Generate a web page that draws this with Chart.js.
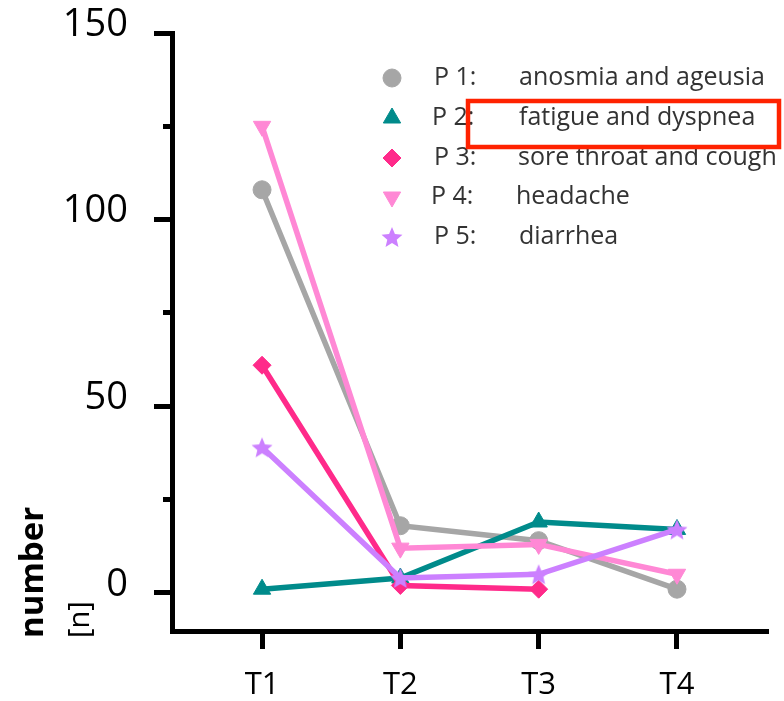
<!DOCTYPE html>
<html>
<head>
<meta charset="utf-8">
<script src="https://cdn.jsdelivr.net/npm/chart.js@4.4.1/dist/chart.umd.min.js"></script>
<style>
  html, body { margin: 0; padding: 0; background: #fff; }
  #wrap { width: 784px; height: 701px; }
</style>
</head>
<body>
<div id="wrap"><canvas id="chart" width="784" height="701"></canvas></div>
<script>
// ===== Data =====
const timeLabels = ["T1", "T2", "T3", "T4"];
const yTicks = [0, 25, 50, 75, 100, 125, 150];
const yLabelled = [0, 50, 100, 150];

const p1 = [108, 18, 14, 1];     // anosmia and ageusia
const p2 = [1, 4, 19, 17];       // fatigue and dyspnea
const p3 = [61, 2, 1, null];     // sore throat and cough
const p4 = [125, 12, 13, 5];     // headache
const p5 = [39, 4, 5, 17];       // diarrhea

const seriesNames = ["P 1:", "P 2:", "P 3:", "P 4:", "P 5:"];
const seriesDesc = ["anosmia and ageusia", "fatigue and dyspnea", "sore throat and cough", "headache", "diarrhea"];

// ===== Star marker (filled) =====
function makeStar(color, r) {
  const c = document.createElement("canvas");
  const s = Math.ceil(r * 2 + 2);
  c.width = s; c.height = s;
  const g = c.getContext("2d");
  g.fillStyle = color;
  g.beginPath();
  for (let i = 0; i < 10; i++) {
    const rad = i % 2 === 0 ? r : r * 0.45;
    const a = -Math.PI / 2 + i * Math.PI / 5;
    const px = s / 2 + rad * Math.cos(a), py = s / 2 + rad * Math.sin(a) + r * 0.1;
    if (i === 0) g.moveTo(px, py); else g.lineTo(px, py);
  }
  g.closePath();
  g.fill();
  return c;
}

const toXY = arr => arr.map((v, i) => ({ x: i + 1, y: v }));

function makeSet(data, color, style, rot, order, radius) {
  return {
    data: toXY(data),
    borderColor: color,
    backgroundColor: color,
    borderWidth: 5.5,
    pointStyle: style,
    rotation: rot,
    pointRadius: radius,
    pointBorderWidth: 1,
    pointBorderColor: color,
    pointBackgroundColor: color,
    tension: 0,
    spanGaps: false,
    order: order
  };
}

const starImg = makeStar("#cc80ff", 11);

const datasets = [
  makeSet(p1, "#a6a6a6", "circle", 0, 5, 9),
  makeSet(p2, "#008b8b", "triangle", 0, 4, 10),
  makeSet(p3, "#ff2a8a", "rectRot", 0, 3, 9),
  makeSet(p4, "#ff88d5", "triangle", 180, 2, 10),
  makeSet(p5, "#cc80ff", starImg, 0, 1, 11)
];

// ===== Legend + y title + annotation box =====
const extras = {
  id: "extras",
  afterDraw(chart) {
    const ctx = chart.ctx;
    ctx.save();
    // legend
    const rowY = [78, 118, 158, 197, 237];
    const nameX = [434, 432, 434, 431, 434];
    const descX = [519, 519, 518, 516, 519];
    chart.data.datasets.forEach((ds, i) => {
      ctx.fillStyle = ds.backgroundColor;
      ctx.strokeStyle = ds.borderColor;
      ctx.lineWidth = 1;
      Chart.helpers.drawPoint(ctx, {
        pointStyle: ds.pointStyle, radius: ds.pointRadius, rotation: ds.rotation, borderWidth: 1
      }, 392, rowY[i]);
      ctx.fillStyle = "#333";
      ctx.font = "25px 'Open Sans'";
      ctx.textBaseline = "middle";
      ctx.textAlign = "left";
      ctx.fillText(seriesNames[i], nameX[i], rowY[i]);
      ctx.fillText(seriesDesc[i], descX[i], rowY[i]);
    });
    // red highlight box
    ctx.strokeStyle = "#ff2200";
    ctx.lineWidth = 4.5;
    ctx.strokeRect(468, 101, 311, 46);
    // y title
    ctx.fillStyle = "#000";
    ctx.save();
    ctx.translate(43, 638);
    ctx.rotate(-Math.PI / 2);
    ctx.textAlign = "left";
    ctx.textBaseline = "alphabetic";
    ctx.font = "bold 33px 'Open Sans'";
    ctx.fillText("number", 0, 0);
    ctx.restore();
    ctx.save();
    ctx.translate(81, 638);
    ctx.rotate(-Math.PI / 2);
    ctx.font = "29px 'Open Sans'";
    ctx.fillText("[n]", 0, 0);
    ctx.restore();
    ctx.restore();
  }
};

new Chart(document.getElementById("chart"), {
  type: "line",
  data: { datasets },
  plugins: [extras],
  options: {
    responsive: false,
    animation: false,
    layout: { padding: { top: 33, right: 16, left: 0, bottom: 0 } },
    plugins: { legend: { display: false }, tooltip: { enabled: false } },
    scales: {
      x: {
        type: "linear",
        min: 0.349,
        max: 4.658,
        afterBuildTicks: s => { s.ticks = timeLabels.map((t, i) => ({ value: i + 1 })); },
        afterFit: s => { s.height = 701 - 631; s.paddingLeft = 0; s.paddingRight = 0; },
        ticks: {
          callback: (v) => timeLabels[Math.round(v) - 1],
          color: "#000",
          font: { family: "'Open Sans'", size: 31 },
          padding: 18,
          maxRotation: 0
        },
        grid: { drawOnChartArea: false, drawTicks: true, tickLength: 18, tickWidth: 5, tickColor: "#000" },
        border: { display: true, color: "#000", width: 5 }
      },
      y: {
        min: -10.2,
        max: 150,
        afterBuildTicks: s => { s.ticks = yTicks.map(v => ({ value: v })); },
        afterFit: s => { s.width = 172; s.paddingTop = 0; s.paddingBottom = 0; },
        ticks: {
          callback: v => (yLabelled.includes(v) ? String(v) : ""),
          color: "#000",
          font: { family: "'Open Sans'", size: 38 },
          padding: 26,
          labelOffset: -8
        },
        grid: {
          drawOnChartArea: false,
          drawTicks: true,
          tickLength: 18,
          tickWidth: 5,
          tickColor: "#000",
          tickBorderDash: c => (c.tick && yLabelled.includes(c.tick.value) ? [] : [0, 9, 12, 100])
        },
        border: { display: true, color: "#000", width: 5 }
      }
    }
  }
});
</script>
</body>
</html>
